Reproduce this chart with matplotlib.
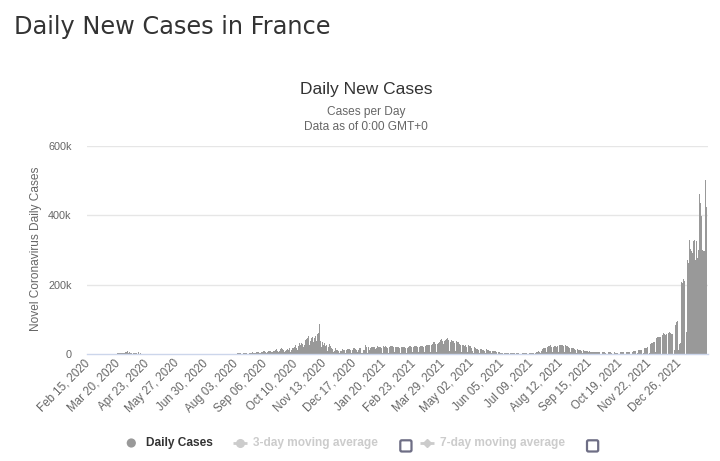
import matplotlib
matplotlib.use("Agg")
import matplotlib.pyplot as plt
from matplotlib.patches import Circle, FancyBboxPatch
import numpy as np
import pandas as pd

# ---------------- data (daily new cases, thousands) ----------------
start_date = "2020-02-15"

cases_2020_k = [
    0, 0, 0, 0, 0, 0, 0,
    0, 0, 0, 0, 0, 0.01, 0.02,
    0.04, 0.03, 0.03, 0.05, 0.06, 0.08, 0.1,
    0.2, 0.1, 0.2, 0.3, 0.4, 0.5, 0.8,
    0.8, 0.9, 1.0, 1.1, 1.2, 1.6, 1.9,
    1.6, 1.8, 1.5, 2.0, 2.2, 1.8, 2.0,
    2.2, 4.6, 4.4, 7.5, 2.4, 5.2, 2.0,
    2.0, 1.9, 0.8, 2.2, 1.8, 2.1, 1.6,
    1.5, 1.2, 5.5, 0.9, 1.6, 1.4, 1.2,
    1.2, 1.0, 0.8, 1.1, 1.0, 0.9, 0.8,
    0.8, 0.6, 0.5, 0.7, 0.8, 0.9, 0.6,
    0.5, 0.4, 0.3, 0.5, 0.6, 0.5, 0.4,
    0.4, 0.3, 0.3, 0.4, 0.5, 0.4, 0.3,
    0.3, 0.3, 0.2, 0.4, 0.4, 0.3, 0.3,
    0.3, 0.2, 0.2, 0.3, 0.4, 0.3, 0.3,
    0.3, 0.2, 0.2, 0.3, 0.4, 0.4, 0.3,
    0.4, 0.3, 0.2, 0.4, 0.4, 0.4, 0.4,
    0.4, 0.3, 0.2, 0.4, 0.4, 0.4, 0.4,
    0.4, 0.3, 0.3, 0.5, 0.5, 0.5, 0.5,
    0.5, 0.3, 0.3, 0.6, 0.6, 0.6, 0.6,
    0.6, 0.4, 0.3, 0.6, 0.6, 0.7, 0.6,
    0.6, 0.4, 0.4, 0.7, 0.8, 0.8, 0.8,
    0.8, 0.5, 0.5, 0.9, 1.0, 1.0, 1.0,
    1.0, 0.6, 0.6, 1.2, 1.3, 1.3, 1.3,
    1.3, 0.7, 0.7, 1.5, 1.6, 1.7, 1.8,
    1.9, 1.0, 1.0, 2.0, 2.3, 2.5, 2.6,
    2.8, 1.2, 1.3, 3.0, 3.5, 3.8, 4.0,
    4.5, 2.0, 1.6, 4.2, 5.0, 5.0, 5.5,
    5.5, 3.0, 2.5, 6.5, 7.0, 7.5, 8.0,
    8.0, 5.0, 4.0, 6.5, 8.5, 9.5, 9.0,
    10.0, 7.0, 6.0, 7.8, 10.0, 10.5, 13.0,
    13.0, 8.5, 5.5, 10.0, 13.0, 16.0, 14.0,
    14.0, 11.5, 4.5, 8.0, 12.5, 13.0, 12.0,
    16.5, 12.5, 5.0, 10.5, 18.5, 18.0, 20.0,
    27.0, 17.0, 8.5, 12.5, 22.5, 30.5, 25.0,
    32.5, 30.0, 13.0, 20.0, 26.5, 41.5, 42.0,
    45.0, 52.0, 26.5, 33.5, 36.5, 47.5, 49.0,
    35.5, 46.0, 52.5, 36.5, 40.5, 58.0, 60.5,
    86.8, 38.5, 20.0, 35.8, 33.0, 25.0, 32.0,
    22.0, 27.0, 9.5, 21.0, 28.0, 22.0, 23.0,
    17.5, 13.0, 4.5, 9.0, 16.0, 13.5, 12.5,
    11.0, 9.0, 4.0, 8.5, 10.0, 13.0, 11.0,
    11.0, 11.0, 3.5, 11.0, 14.0, 13.0, 13.5,
    13.0, 10.5, 3.0, 11.5, 17.5, 18.0, 15.5,
    15.0, 12.0, 5.5, 11.5, 17.5, 18.0, 4.0,
    3.0, 2.0, 11.4, 11.0, 26.0, 20.0,
]

cases_2021_k = [
    3.5,
    19.0, 12.5, 4.0, 18.0, 21.0, 19.5, 20.0,
    20.0, 15.5, 4.0, 18.5, 23.0, 21.0, 21.0,
    21.0, 16.0, 4.0, 20.0, 22.0, 21.5, 22.0,
    21.0, 17.5, 4.0, 19.0, 22.0, 23.0, 22.5,
    22.5, 19.0, 4.5, 19.5, 21.0, 20.5, 20.5,
    20.0, 17.5, 4.0, 19.0, 20.0, 21.0, 20.5,
    19.0, 16.0, 4.0, 18.0, 21.0, 22.0, 22.0,
    22.0, 20.0, 4.5, 20.5, 22.0, 22.5, 22.0,
    22.5, 21.5, 4.5, 21.0, 23.0, 23.5, 23.0,
    24.0, 21.5, 4.5, 23.0, 26.5, 25.0, 27.0,
    29.0, 26.0, 6.5, 25.5, 29.5, 34.0, 35.0,
    30.0, 30.5, 5.0, 29.0, 33.0, 35.0, 41.0,
    42.0, 38.0, 9.0, 29.5, 38.0, 41.0, 43.5,
    45.0, 41.0, 56.0, 9.0, 36.0, 40.0, 38.0,
    37.0, 32.0, 8.5, 30.0, 38.0, 35.0, 33.5,
    30.0, 25.0, 6.0, 27.0, 28.0, 26.5, 24.0,
    25.0, 21.0, 5.0, 26.0, 25.0, 23.0, 22.0,
    17.0, 9.5, 3.5, 19.5, 18.5, 17.0, 15.0,
    15.0, 11.0, 2.5, 15.5, 14.0, 11.0, 12.0,
    12.5, 10.0, 2.0, 13.0, 11.5, 11.0, 10.0,
    9.5, 8.0, 2.0, 8.5, 10.0, 9.5, 8.5,
    7.0, 5.0, 1.2, 5.0, 4.5, 4.0, 4.0,
    4.0, 3.5, 1.0, 3.5, 3.5, 3.0, 3.0,
    2.5, 1.5, 0.8, 2.0, 2.0, 1.8, 1.8,
    1.5, 1.0, 0.5, 1.5, 1.5, 1.5, 1.4,
    1.3, 0.8, 0.4, 1.5, 1.6, 1.8, 1.8,
    1.8, 1.0, 0.5, 2.0, 2.5, 2.8, 3.0,
    3.0, 2.5, 1.0, 4.0, 5.5, 6.5, 6.0,
    8.0, 6.5, 1.5, 8.5, 13.0, 15.0, 16.5,
    18.0, 17.5, 5.0, 20.0, 22.0, 22.5, 24.0,
    25.0, 20.0, 6.5, 20.5, 22.0, 22.5, 22.0,
    21.0, 22.0, 5.5, 26.0, 27.0, 26.0, 25.0,
    25.5, 24.0, 6.0, 25.0, 22.0, 22.0, 21.5,
    19.0, 17.0, 4.5, 18.0, 17.5, 16.0, 15.0,
    14.0, 12.0, 2.5, 13.0, 12.0, 11.0, 10.5,
    10.0, 8.5, 2.0, 10.5, 9.0, 9.0, 8.0,
    7.5, 6.5, 1.5, 8.0, 7.0, 7.0, 6.5,
    6.0, 5.5, 1.2, 6.5, 6.0, 5.5, 5.0,
    4.5, 0, 0.5, 5.5, 5.0, 4.8, 4.5,
    4.0, 0, 0.8, 5.0, 5.0, 4.5, 4.5,
    4.3, 0, 0.9, 5.0, 4.5, 4.0, 4.0,
    4.0, 0, 0.9, 4.8, 4.5, 4.5, 4.5,
    4.5, 0, 1.0, 6.0, 5.5, 5.5, 5.5,
    5.5, 0, 1.2, 7.0, 8.0, 9.0, 9.5,
    10.0, 0, 1.5, 10.5, 12.0, 11.5, 11.0,
    11.5, 0, 2.0, 16.0, 17.5, 18.5, 19.5,
    20.0, 0, 4.0, 30.0, 32.0, 33.0, 35.0,
    36.0, 0, 6.0, 47.0, 50.0, 49.0, 48.0,
    48.0, 0, 8.0, 55.0, 60.0, 57.0, 56.0,
    57.0, 0, 10.0, 60.0, 63.0, 61.0, 58.0,
    58.0, 0, 12.0, 72.0, 84.0, 91.0, 94.0,
    12.0, 27.7, 30.4, 179.8, 208.1, 206.2, 216.0,
]

cases_2022_k = [
    210.0, 0, 64.0, 271.7, 320.0, 261.5, 328.0,
    303.7, 296.1, 290.0, 327.0, 330.0, 305.3, 270.0,
    324.6, 278.1, 300.0, 462.0, 436.2, 410.0, 398.0,
    300.0, 298.0, 296.0, 501.6, 423.0,
]

tick_labels = ["Feb 15, 2020", "Mar 20, 2020", "Apr 23, 2020", "May 27, 2020",
               "Jun 30, 2020", "Aug 03, 2020", "Sep 06, 2020", "Oct 10, 2020",
               "Nov 13, 2020", "Dec 17, 2020", "Jan 20, 2021", "Feb 23, 2021",
               "Mar 29, 2021", "May 02, 2021", "Jun 05, 2021", "Jul 09, 2021",
               "Aug 12, 2021", "Sep 15, 2021", "Oct 19, 2021", "Nov 22, 2021",
               "Dec 26, 2021"]

y_ticks = [0, 200000, 400000, 600000]
y_tick_labels = ["0", "200k", "400k", "600k"]

# ---------------- figure ----------------
W, H = 720, 461
fig = plt.figure(figsize=(W / 100, H / 100), dpi=100)
fig.patch.set_facecolor("white")

SANS = ["Liberation Sans", "DejaVu Sans"]
plt.rcParams["font.family"] = SANS

cases = np.array(cases_2020_k + cases_2021_k + cases_2022_k) * 1000
dates = pd.date_range(start_date, periods=len(cases), freq="D")
x = np.arange(len(cases))

L, R, T, B = 87, 708, 146, 354
ax = fig.add_axes([L / W, 1 - B / H, (R - L) / W, (B - T) / H])
ax.set_facecolor("none")
ax.bar(x, cases, width=1.0, color="#999999", linewidth=0, zorder=3)

ax.set_ylim(0, 600000)
ax.set_xlim(-1.6, 713.0)
ax.set_yticks(y_ticks)
ax.set_yticklabels(y_tick_labels)
for yv in y_ticks[1:]:
    ax.axhline(yv, color="#e6e6e6", lw=1, zorder=1)

tick_pos = [dates.get_loc(pd.to_datetime(t, format="%b %d, %Y")) for t in tick_labels]
ax.set_xticks(tick_pos)
ax.set_xticklabels(tick_labels, rotation=45, ha="right", va="center",
                   rotation_mode="anchor")
ax.tick_params(axis="x", length=0, pad=5.5, labelsize=8.3, labelcolor="#666666")
ax.tick_params(axis="y", length=0, pad=11, labelsize=7.8, labelcolor="#666666")

for s in ["top", "right", "left"]:
    ax.spines[s].set_visible(False)
ax.spines["bottom"].set_color("#ccd6eb")
ax.spines["bottom"].set_linewidth(1)
ax.spines["bottom"].set_zorder(4)

# ---------------- overlay for texts & legend (pixel coords) ----------------
ov = fig.add_axes([0, 0, 1, 1])
ov.set_xlim(0, W)
ov.set_ylim(H, 0)
ov.axis("off")
ov.patch.set_alpha(0)

ov.text(14, 34, "Daily New Cases in France", fontsize=17.3, color="#333333",
        family=["DejaVu Sans"], va="baseline", ha="left")
ov.text(366, 94, "Daily New Cases", fontsize=12.5, color="#333333",
        va="baseline", ha="center")
ov.text(366, 115, "Cases per Day", fontsize=8.6, color="#666666",
        va="baseline", ha="center")
ov.text(366, 129.5, "Data as of 0:00 GMT+0", fontsize=8.6, color="#666666",
        va="baseline", ha="center")
ov.text(36.5, 249, "Novel Coronavirus Daily Cases", fontsize=8.6, color="#666666",
        rotation=90, va="center", ha="center")

# legend
ly = 443
ov.add_patch(Circle((131.3, ly), 4.6, color="#999999", lw=0))
ov.text(145.7, ly, "Daily Cases", fontsize=8.6, fontweight="bold", color="#333333",
        va="center", ha="left")

ov.plot([233, 247], [ly, ly], color="#cccccc", lw=2, solid_capstyle="butt")
ov.plot([240], [ly], marker="o", ms=5.5, color="#cccccc", mec="#cccccc")
ov.text(253, ly, "3-day moving average", fontsize=8.6, fontweight="bold",
        color="#cccccc", va="center", ha="left")
ov.add_patch(FancyBboxPatch((400.3, 440.3), 11.2, 11.2,
                            boxstyle="round,pad=0,rounding_size=1.5",
                            fc="white", ec="#6e6e85", lw=1.6))

ov.plot([420, 434], [ly, ly], color="#cccccc", lw=2, solid_capstyle="butt")
ov.plot([427], [ly], marker="D", ms=4.5, color="#cccccc", mec="#cccccc")
ov.text(440.5, ly, "7-day moving average", fontsize=8.6, fontweight="bold",
        color="#cccccc", va="center", ha="left")
ov.add_patch(FancyBboxPatch((587.0, 440.3), 11.2, 11.2,
                            boxstyle="round,pad=0,rounding_size=1.5",
                            fc="white", ec="#6e6e85", lw=1.6))

fig.savefig("out.png", dpi=100)
